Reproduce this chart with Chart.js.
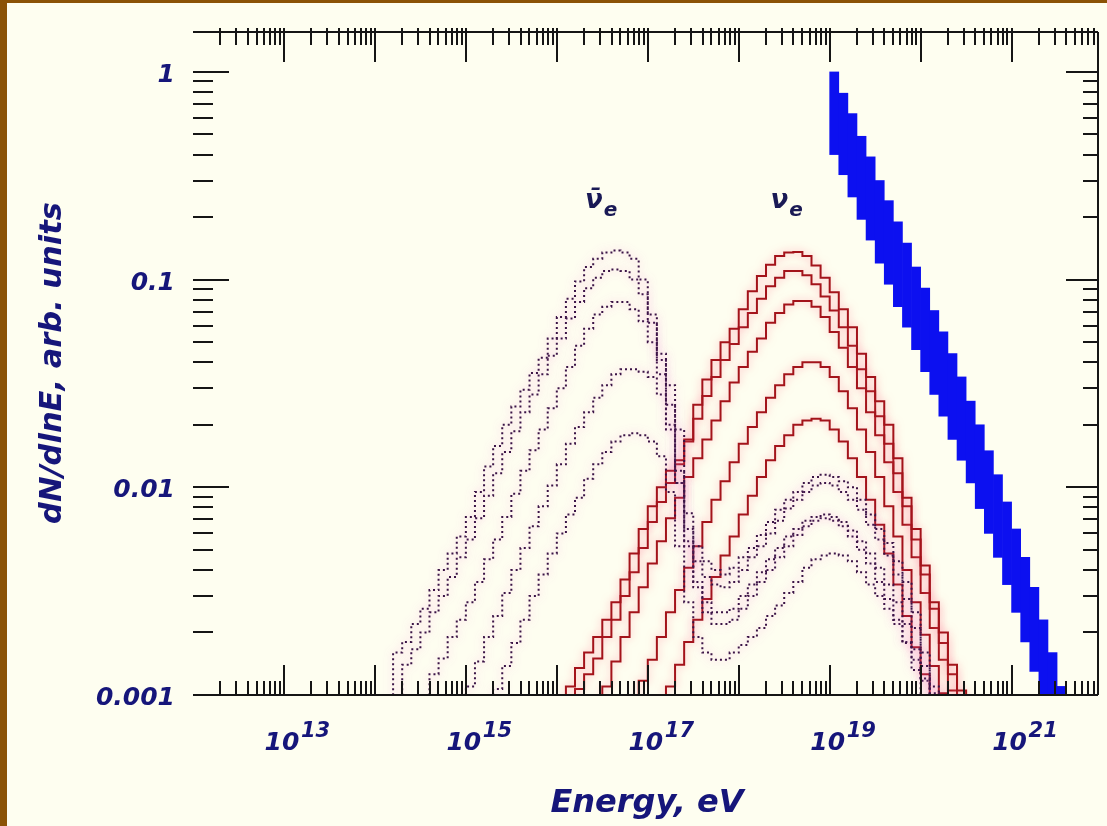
<!DOCTYPE html>
<html>
<head>
<meta charset="utf-8">
<title>Neutrino spectra</title>
<script src="https://cdn.jsdelivr.net/npm/chart.js@4.4.1/dist/chart.umd.min.js"></script>
<style>
  html, body { margin: 0; padding: 0; background: #fefef0; }
  #wrap { position: relative; width: 1107px; height: 826px; }
</style>
</head>
<body>
<div id="wrap"><canvas id="spectrum"></canvas></div>
<script>
// histogram bins are 0.1 decade wide in log10(E / eV)
const BIN = 0.1;

// nu_e spectra (solid red), first bin edge in log10(E)
const nuStart = [16.0, 16.1, 16.4, 16.8, 17.1];
const nu1 = [0.0006, 0.0011, 0.00135, 0.0016, 0.0019, 0.0023, 0.0028, 0.0036, 0.0048, 0.0063,
  0.0081, 0.010, 0.012, 0.0135, 0.017, 0.025, 0.033, 0.041, 0.050, 0.058,
  0.072, 0.088, 0.104, 0.118, 0.130, 0.135, 0.136, 0.130, 0.117, 0.102,
  0.087, 0.072, 0.059, 0.044, 0.034, 0.026, 0.020, 0.0138, 0.0089, 0.0063,
  0.0042, 0.0028, 0.0020, 0.0014, 0.00105, 0.0006];
const nu2 = [0.0006, 0.00107, 0.00126, 0.0015, 0.0019, 0.0023, 0.0030, 0.0039, 0.0051, 0.0068,
  0.0085, 0.0105, 0.0129, 0.0166, 0.0214, 0.0275, 0.034, 0.041, 0.049, 0.059,
  0.069, 0.081, 0.093, 0.102, 0.110, 0.110, 0.105, 0.095, 0.083, 0.071,
  0.059, 0.048, 0.037, 0.029, 0.022, 0.0162, 0.0117, 0.0081, 0.0056, 0.0038,
  0.0026, 0.00178, 0.00126, 0.0006];
const nu3 = [0.0006, 0.0011, 0.00145, 0.0019, 0.0025, 0.0033, 0.0043, 0.0055, 0.0071, 0.0089,
  0.0112, 0.0138, 0.017, 0.021, 0.026, 0.032, 0.038, 0.045, 0.052, 0.062,
  0.069, 0.076, 0.079, 0.079, 0.074, 0.066, 0.056, 0.047, 0.038, 0.030,
  0.023, 0.0178, 0.0132, 0.0095, 0.0066, 0.0046, 0.0031, 0.0021, 0.00148, 0.00105, 0.0006];
const nu4 = [0.0006, 0.00117, 0.00148, 0.0019, 0.0025, 0.0032, 0.0041, 0.0052, 0.0068, 0.0087,
  0.0107, 0.0132, 0.0162, 0.0195, 0.023, 0.027, 0.031, 0.035, 0.038, 0.040,
  0.040, 0.038, 0.034, 0.029, 0.024, 0.019, 0.0148, 0.0112, 0.0081, 0.0058,
  0.0040, 0.0028, 0.00195, 0.00138, 0.00102, 0.0006];
const nu5 = [0.0006, 0.0011, 0.0014, 0.0018, 0.0023, 0.0029, 0.0037, 0.0047, 0.0058, 0.0074,
  0.0091, 0.0112, 0.0135, 0.0158, 0.0178, 0.020, 0.021, 0.0214, 0.021, 0.019,
  0.0166, 0.0138, 0.0112, 0.0087, 0.0066, 0.0048, 0.0034, 0.0024, 0.0017, 0.00126,
  0.0010, 0.0006];

// anti nu_e spectra (dotted purple)
const antiStart = [14.1, 14.2, 14.5, 14.9, 15.2];
const anti1 = [0.0006, 0.0016, 0.0018, 0.0022, 0.0026, 0.0032, 0.0040, 0.0048, 0.0058, 0.0072,
  0.0095, 0.0126, 0.0158, 0.020, 0.0245, 0.0295, 0.0355, 0.042, 0.052, 0.066,
  0.081, 0.098, 0.115, 0.126, 0.135, 0.138, 0.135, 0.126, 0.100, 0.068,
  0.044, 0.031, 0.019, 0.0075, 0.0052, 0.0044, 0.0040, 0.0038, 0.0041, 0.0046,
  0.0051, 0.0059, 0.0068, 0.0078, 0.0087, 0.0095, 0.0105, 0.0112, 0.0115, 0.0112,
  0.0107, 0.0100, 0.0087, 0.0074, 0.0063, 0.0054, 0.0044, 0.0035, 0.0025, 0.0016,
  0.0011, 0.0006];
const anti2 = [0.0006, 0.0014, 0.00166, 0.0020, 0.0025, 0.0030, 0.0037, 0.0046, 0.0056, 0.0071,
  0.0091, 0.0117, 0.0148, 0.0186, 0.023, 0.028, 0.035, 0.043, 0.052, 0.065,
  0.078, 0.091, 0.102, 0.110, 0.112, 0.110, 0.100, 0.085, 0.062, 0.041,
  0.025, 0.012, 0.0063, 0.0044, 0.0037, 0.0034, 0.0033, 0.0035, 0.0040, 0.0046,
  0.0052, 0.0060, 0.0069, 0.0079, 0.0087, 0.0095, 0.0102, 0.0105, 0.0102, 0.0095,
  0.0087, 0.0078, 0.0066, 0.0056, 0.0047, 0.0038, 0.0029, 0.0021, 0.00138, 0.00102,
  0.0006];
const anti3 = [0.0006, 0.00126, 0.0015, 0.0019, 0.0023, 0.0028, 0.0035, 0.0045, 0.0056, 0.0072,
  0.0093, 0.012, 0.0151, 0.019, 0.024, 0.030, 0.038, 0.048, 0.058, 0.068,
  0.074, 0.078, 0.078, 0.072, 0.063, 0.050, 0.035, 0.020, 0.0105, 0.0055,
  0.0035, 0.0028, 0.0025, 0.0025, 0.0026, 0.0030, 0.0034, 0.0039, 0.0045, 0.0051,
  0.0058, 0.0063, 0.0069, 0.0072, 0.0074, 0.0072, 0.0068, 0.0062, 0.0055, 0.0048,
  0.0041, 0.0034, 0.0028, 0.0022, 0.00166, 0.0012, 0.0006];
const anti4 = [0.0006, 0.0011, 0.00145, 0.0019, 0.0024, 0.0031, 0.0040, 0.0051, 0.0065, 0.0081,
  0.0102, 0.0129, 0.0162, 0.0195, 0.023, 0.027, 0.031, 0.035, 0.037, 0.037,
  0.036, 0.034, 0.028, 0.019, 0.0105, 0.0052, 0.0033, 0.0025, 0.0022, 0.0022,
  0.0023, 0.0026, 0.0030, 0.0035, 0.0040, 0.0046, 0.0052, 0.0059, 0.0065, 0.0069,
  0.0071, 0.0069, 0.0065, 0.0058, 0.0050, 0.0043, 0.0035, 0.0029, 0.0023, 0.00178,
  0.00132, 0.0006];
const anti5 = [0.0006, 0.00107, 0.00138, 0.00178, 0.0023, 0.0030, 0.0038, 0.0048, 0.0060, 0.0074,
  0.0089, 0.0110, 0.0129, 0.0148, 0.0166, 0.0178, 0.0182, 0.0178, 0.0166, 0.0141,
  0.0095, 0.0052, 0.0028, 0.0019, 0.0016, 0.00148, 0.00148, 0.0016, 0.00174, 0.0019,
  0.0021, 0.0024, 0.0027, 0.0031, 0.0035, 0.0041, 0.0045, 0.0047, 0.0048, 0.0047,
  0.0044, 0.0039, 0.0034, 0.0030, 0.0026, 0.0022, 0.0018, 0.00148, 0.00117, 0.0006];

// primary flux band (blue), one column per bin: lower and upper edge
const bandStart = 19.0;
const bandTop = [1.00, 0.79, 0.63, 0.49, 0.39, 0.30, 0.24, 0.19, 0.15, 0.115,
  0.091, 0.071, 0.056, 0.044, 0.034, 0.026, 0.020, 0.015, 0.0115, 0.0085,
  0.0063, 0.0046, 0.0033, 0.0023, 0.0016, 0.0011, 0.00072];
const bandBottom = [0.40, 0.32, 0.25, 0.195, 0.155, 0.12, 0.095, 0.074, 0.059, 0.046,
  0.036, 0.028, 0.022, 0.017, 0.0135, 0.0105, 0.0079, 0.006, 0.0046, 0.0034,
  0.0025, 0.0018, 0.0013, 0.00093, 0.00065, 0.00044, 0.00029];

// axes
const xMinExp = 12, xMaxExp = 21.95;
const yMin = 0.001, yMax = 1.557;
const xLabelExps = [13, 15, 17, 19, 21];
const yLabelValues = [1, 0.1, 0.01, 0.001];
const yLabelTexts = ['1', '0.1', '0.01', '0.001'];

const INK = '#16167a';
const FONT = '"DejaVu Sans", "Liberation Sans", sans-serif';

function histPoints(start, values) {
  const pts = values.map((v, i) => ({x: Math.pow(10, start + i * BIN), y: v}));
  pts.push({x: Math.pow(10, start + values.length * BIN), y: values[values.length - 1]});
  return pts;
}

function histSet(start, values, color, dash, haze) {
  return {
    type: 'line',
    data: histPoints(start, values),
    borderColor: color,
    borderWidth: 2,
    borderDash: dash,
    stepped: 'before',
    pointRadius: 0,
    fill: false,
    haze: haze
  };
}

const datasets = [];
[anti1, anti2, anti3, anti4, anti5].forEach((v, i) => {
  datasets.push(histSet(antiStart[i], v, '#3b1446', [2, 3], 'rgba(240,120,220,0.7)'));
});
[nu1, nu2, nu3, nu4, nu5].forEach((v, i) => {
  datasets.push(histSet(nuStart[i], v, '#a3131a', [], 'rgba(255,110,140,0.6)'));
});
datasets.push({
  type: 'bar',
  data: bandTop.map((t, i) => ({x: Math.pow(10, bandStart + (i + 0.5) * BIN), y: [bandBottom[i], t]})),
  backgroundColor: '#0c10f0',
  borderWidth: 0,
  barPercentage: 1,
  categoryPercentage: 1
});

const decor = {
  id: 'decor',
  beforeDraw(chart) {
    const ctx = chart.ctx;
    ctx.save();
    ctx.fillStyle = '#fefef0';
    ctx.fillRect(0, 0, chart.width, chart.height);
    ctx.fillStyle = '#8b5306';
    ctx.fillRect(0, 0, 7, chart.height);
    ctx.fillRect(0, 0, chart.width, 3);
    ctx.restore();
  },
  beforeDatasetDraw(chart, args) {
    const ds = chart.data.datasets[args.index];
    if (ds.haze) {
      chart.ctx.save();
      chart.ctx.shadowColor = ds.haze;
      chart.ctx.shadowBlur = 8;
    }
  },
  afterDatasetDraw(chart, args) {
    if (chart.data.datasets[args.index].haze) chart.ctx.restore();
  },
  afterDraw(chart) {
    const {ctx, chartArea: a, scales: {x, y}} = chart;
    ctx.save();
    ctx.strokeStyle = '#151515';
    ctx.lineWidth = 2;

    // frame: top, bottom and right edges
    ctx.beginPath();
    ctx.moveTo(a.left, a.top); ctx.lineTo(a.right, a.top);
    ctx.moveTo(a.left, a.bottom); ctx.lineTo(a.right, a.bottom);
    ctx.moveTo(a.right, a.top); ctx.lineTo(a.right, a.bottom);
    ctx.stroke();

    // energy ticks, top and bottom
    ctx.beginPath();
    for (let d = 12; d <= 21; d++) {
      for (let m = 1; m <= 9; m++) {
        const px = Math.round(x.getPixelForValue(m * Math.pow(10, d)));
        if (px <= a.left + 1 || px >= a.right - 1) continue;
        const top = m === 1 ? 30 : 13;
        const bot = m === 1 ? 30 : 14;
        ctx.moveTo(px, a.top - 4); ctx.lineTo(px, a.top + top);
        ctx.moveTo(px, a.bottom); ctx.lineTo(px, a.bottom - bot);
      }
    }
    // flux ticks, left and right
    for (let d = -3; d <= 0; d++) {
      for (let m = 1; m <= 9; m++) {
        const v = m * Math.pow(10, d);
        if (v > yMax) continue;
        const py = Math.round(y.getPixelForValue(v));
        if (py >= a.bottom - 1) continue;
        ctx.moveTo(a.left, py); ctx.lineTo(a.left + (m === 1 ? 36 : 20), py);
        ctx.moveTo(a.right, py); ctx.lineTo(a.right - (m === 1 ? 32 : 15), py);
      }
    }
    ctx.stroke();

    ctx.fillStyle = INK;
    // flux labels
    ctx.font = 'italic bold 25px ' + FONT;
    ctx.textAlign = 'right';
    ctx.textBaseline = 'alphabetic';
    yLabelValues.forEach((v, i) => {
      ctx.fillText(yLabelTexts[i], a.left - 18, y.getPixelForValue(v) + 10);
    });
    // energy labels 10^n
    xLabelExps.forEach(e => {
      const px = x.getPixelForValue(Math.pow(10, e));
      ctx.font = 'italic bold 25px ' + FONT;
      ctx.textAlign = 'center';
      ctx.fillText('10', px - 2, a.bottom + 55);
      ctx.font = 'italic bold 21px ' + FONT;
      ctx.textAlign = 'left';
      ctx.fillText(String(e), px + 17, a.bottom + 42);
    });

    // axis titles
    ctx.font = 'italic bold 32px ' + FONT;
    ctx.textAlign = 'center';
    ctx.fillText('Energy, eV', 647, 812);
    ctx.save();
    ctx.translate(61, 363);
    ctx.rotate(-Math.PI / 2);
    ctx.font = 'italic bold 30.5px ' + FONT;
    ctx.fillText('dN/dlnE, arb. units', 0, 0);
    ctx.restore();

    // curve group labels
    const greek = (logE, val, bar) => {
      const px = x.getPixelForValue(Math.pow(10, logE));
      const py = y.getPixelForValue(val);
      ctx.textAlign = 'left';
      ctx.font = 'italic bold 26px ' + FONT;
      ctx.fillStyle = '#1a1a55';
      const nu = bar ? 'ν\u0304' : 'ν';
      ctx.fillText(nu, px, py);
      const w = ctx.measureText('ν').width;
      ctx.font = 'italic bold 20px ' + FONT;
      ctx.fillText('e', px + w + 1, py + 8);
    };
    greek(16.31, 0.221, true);
    greek(18.35, 0.221, false);
    ctx.restore();
  }
};

new Chart(document.getElementById('spectrum'), {
  type: 'line',
  data: {datasets: datasets},
  options: {
    responsive: true,
    maintainAspectRatio: false,
    animation: false,
    layout: {padding: {left: 193, top: 32, right: 9, bottom: 131}},
    plugins: {legend: {display: false}, tooltip: {enabled: false}},
    scales: {
      x: {
        type: 'logarithmic',
        display: false,
        min: Math.pow(10, xMinExp),
        max: Math.pow(10, xMaxExp),
        afterBuildTicks: s => {
          const t = [];
          for (let d = 12; d <= 21; d++) t.push({value: Math.pow(10, d)});
          s.ticks = t;
        }
      },
      y: {
        type: 'logarithmic',
        display: false,
        min: yMin,
        max: yMax
      }
    }
  },
  plugins: [decor]
});
</script>
</body>
</html>
